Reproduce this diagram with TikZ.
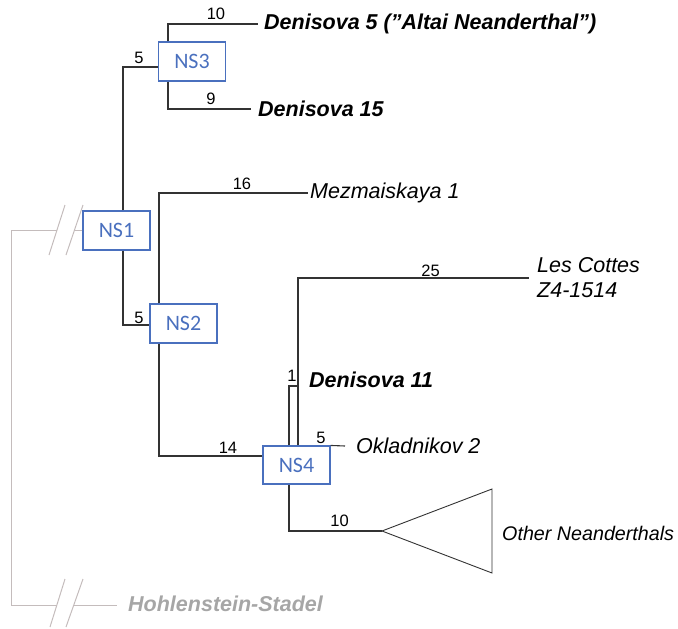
\documentclass[tikz,border=0pt]{standalone}
\usepackage{fontspec}
\setmainfont{Liberation Sans}
\newfontfamily\calib{Carlito}
\definecolor{brc}{HTML}{333333}
\definecolor{nsblue}{HTML}{4A70BE}
\definecolor{glc}{HTML}{C4BCBC}
\definecolor{gtc}{HTML}{A6A6A6}
\begin{document}
\begin{tikzpicture}[x=1pt,y=-1pt,
  br/.style={draw=brc,line width=1.1pt},
  gl/.style={draw=glc,line width=1pt},
  nsbox/.style={draw=nsblue,line width=1.1pt,text=nsblue,minimum width=67pt,minimum height=39pt,inner sep=0pt,font=\calib\fontsize{22}{24}\selectfont},
  num/.style={inner sep=0pt,font=\fontsize{16.5}{18}\selectfont},
  leafb/.style={anchor=west,inner ysep=0pt,font=\bfseries\itshape\fontsize{21.5}{24}\selectfont},
  leafi/.style={anchor=west,inner ysep=0pt,font=\itshape\fontsize{21.5}{24}\selectfont},
]
\useasboundingbox (0,0) rectangle (678,629);
% boxes
\node[nsbox] (NS3) at (192,61.5) {NS3};
\node[nsbox] (NS1) at (116.5,230.5) {NS1};
\node[nsbox] (NS2) at (183.5,323.5) {NS2};
\node[nsbox,minimum height=38pt] (NS4) at (296.5,465) {NS4};
% leaves
\node[leafb,inner xsep=6pt] (D5) at (258,24) {Denisova 5 (”Altai Neanderthal”)};
\node[leafb,inner xsep=7pt] (D15) at (251,109) {Denisova 15};
\node[leafi,inner xsep=2pt] (Mez) at (308,193) {Mezmaiskaya 1};
\node[leafi,inner xsep=8pt,align=left,font=\itshape\fontsize{21.5}{25}\selectfont] (LC) at (529,278) {Les Cottes\\Z4-1514};
\node[leafb,inner xsep=11pt] (D11) at (298,380) {Denisova 11};
\node[leafi,inner xsep=11pt] (Ok) at (345,446) {Okladnikov 2};
\node[leafi,inner sep=0pt,font=\itshape\fontsize{19.7}{22}\selectfont] (ON) at (502,533) {Other Neanderthals};
\node[leafb,inner xsep=11pt,text=gtc] (H) at (117,604) {Hohlenstein-Stadel};
\coordinate (tip) at (382,531);
% branches
\draw[br] ([xshift=6.5pt]NS1.north) |- ([yshift=-5.5pt]NS3.west);
\draw[br] ([xshift=-24pt]NS3.north) |- (D5.west);
\draw[br] ([xshift=-24pt]NS3.south) |- (D15.west);
\draw[br] ([xshift=6.5pt]NS1.south) |- ([yshift=-1.5pt]NS2.west);
\draw[br] ([xshift=-24.5pt]NS2.north) |- (Mez.west);
\draw[br] ([xshift=-24.5pt]NS2.south) |- ([yshift=9pt]NS4.west);
\draw[br] ([xshift=-7.5pt]NS4.north) |- ([yshift=-6pt]D11.west);
\draw[br] ([xshift=1.5pt]NS4.north) |- (LC.west);
\draw[br] (NS4.north east) -- (Ok.west);
\draw[br] ([xshift=-7.5pt]NS4.south) |- (tip);
\draw[br,line width=0.9pt] (tip) -- (492,489) -- (492,573) -- cycle;
% branch lengths
\node[num] (n1) at (216,14) {10};
\node[num] (n2) at (211,99) {9};
\node[num] (n3) at (139,58) {5};
\node[num] (n4) at (242,183.5) {16};
\node[num] (n5) at (139,317.5) {5};
\node[num] (n6) at (228,447.5) {14};
\node[num] (n7) at (292,375.5) {1};
\node[num] (n8) at (321,437.5) {5};
\node[num] (n9) at (430.5,270.5) {25};
\node[num] (n10) at (339.5,521) {10};
% grey outgroup
\coordinate (b1) at (57,230.5);
\coordinate (b2) at (74,230.5);
\coordinate (c1) at (11,230.5);
\coordinate (c2) at (11,605);
\coordinate (b3) at (57,605);
\coordinate (b4) at (73,605);
\draw[gl] (NS1.west) -- (b2);
\draw[gl] (b1) -- (c1) -- (c2) -- (b3);
\draw[gl] (b4) -- (H.west |- b4);
\draw[gl] (49,255) -- (65,205);
\draw[gl] (66,255) -- (83,205);
\draw[gl] (50,627) -- (65,579);
\draw[gl] (66,627) -- (83,579);
\end{tikzpicture}
\end{document}
